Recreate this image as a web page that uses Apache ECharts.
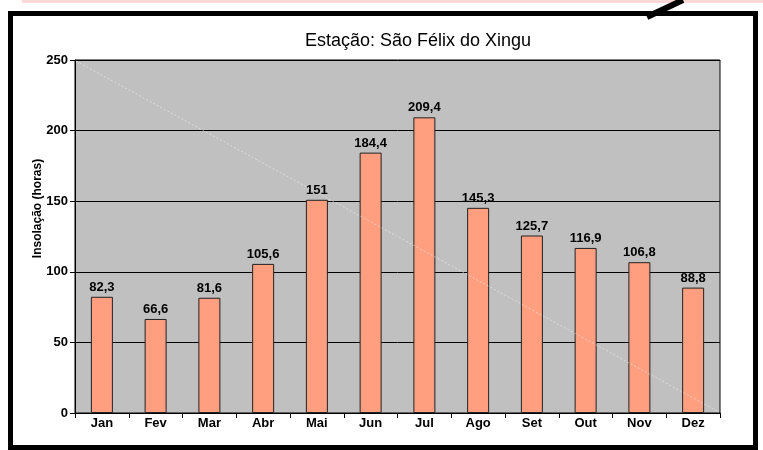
<!DOCTYPE html>
<html>
<head>
<meta charset="utf-8">
<script src="https://cdn.jsdelivr.net/npm/echarts@6/dist/echarts.min.js"></script>
<style>
  html, body { margin: 0; padding: 0; background: #fff; }
  #chart { width: 763px; height: 450px; }
</style>
</head>
<body>
<div id="chart"></div>
<script>
var months = ['Jan', 'Fev', 'Mar', 'Abr', 'Mai', 'Jun', 'Jul', 'Ago', 'Set', 'Out', 'Nov', 'Dez'];
var insolacao = [82.3, 66.6, 81.6, 105.6, 151, 184.4, 209.4, 145.3, 125.7, 116.9, 106.8, 88.8];
var yTicks = [0, 50, 100, 150, 200, 250];

var chartDom = document.getElementById('chart');
var myChart = echarts.init(chartDom);
var option;

var font = 'Liberation Sans, Arial, sans-serif';

option = {
  backgroundColor: '#fff',
  animation: false,
  title: {
    text: 'Estação: São Félix do Xingu',
    left: 300,
    top: 27,
    textStyle: { fontFamily: font, fontSize: 18, fontWeight: 'normal', color: '#000' }
  },
  grid: {
    left: 75,
    right: 43,
    top: 60,
    bottom: 37,
    show: true,
    backgroundColor: '#c0c0c0',
    borderColor: '#000',
    borderWidth: 1
  },
  xAxis: {
    type: 'category',
    data: months,
    axisLine: { lineStyle: { color: '#000', width: 1 } },
    axisTick: { show: true, length: 5, lineStyle: { color: '#000' } },
    axisLabel: { fontFamily: font, fontSize: 13, fontWeight: 'bold', color: '#000', margin: 4 }
  },
  yAxis: {
    type: 'value',
    min: yTicks[0],
    max: yTicks[yTicks.length - 1],
    interval: 50,
    name: 'Insolação (horas)',
    nameLocation: 'middle',
    nameGap: 31,
    nameMoveOverlap: false,
    nameTextStyle: {
      fontFamily: font, fontSize: 12, fontWeight: 'bold', color: '#000',
      padding: [0, 0, 0, 56]
    },
    axisLine: { show: true, lineStyle: { color: '#000' } },
    axisTick: { show: true, length: 5, lineStyle: { color: '#000' } },
    axisLabel: { fontFamily: font, fontSize: 13, fontWeight: 'bold', color: '#000', margin: 7 },
    splitLine: { show: true, lineStyle: { color: '#000', width: 1 } }
  },
  series: [
    {
      type: 'bar',
      data: insolacao,
      barWidth: 22,
      itemStyle: { color: '#ff9f80', borderColor: '#222', borderWidth: 1 },
      label: {
        show: true,
        position: 'top',
        distance: 3,
        fontFamily: font,
        fontSize: 13,
        fontWeight: 'bold',
        color: '#000',
        formatter: function (p) {
          return String(p.value).replace('.', ',');
        }
      }
    }
  ],
  graphic: [
    // pink strip at the very top
    { type: 'rect', shape: { x: 22, y: 0, width: 741, height: 3 }, style: { fill: '#ffd8d8' }, z: 1 },
    // outer frame
    {
      type: 'rect',
      shape: { x: 10.5, y: 13.5, width: 745, height: 434 },
      style: { fill: 'none', stroke: '#000', lineWidth: 5 },
      z: 10
    },
    // slash at top right
    {
      type: 'line',
      shape: { x1: 647, y1: 17, x2: 683, y2: 0 },
      style: { stroke: '#000', lineWidth: 6 },
      z: 10
    },
    // faint diagonal across the plot area
    {
      type: 'line',
      shape: { x1: 76, y1: 61, x2: 719, y2: 412 },
      style: { stroke: 'rgba(255,255,255,0.45)', lineWidth: 1, lineDash: [2, 2] },
      z: 5
    }
  ]
};

option && myChart.setOption(option);
</script>
</body>
</html>
